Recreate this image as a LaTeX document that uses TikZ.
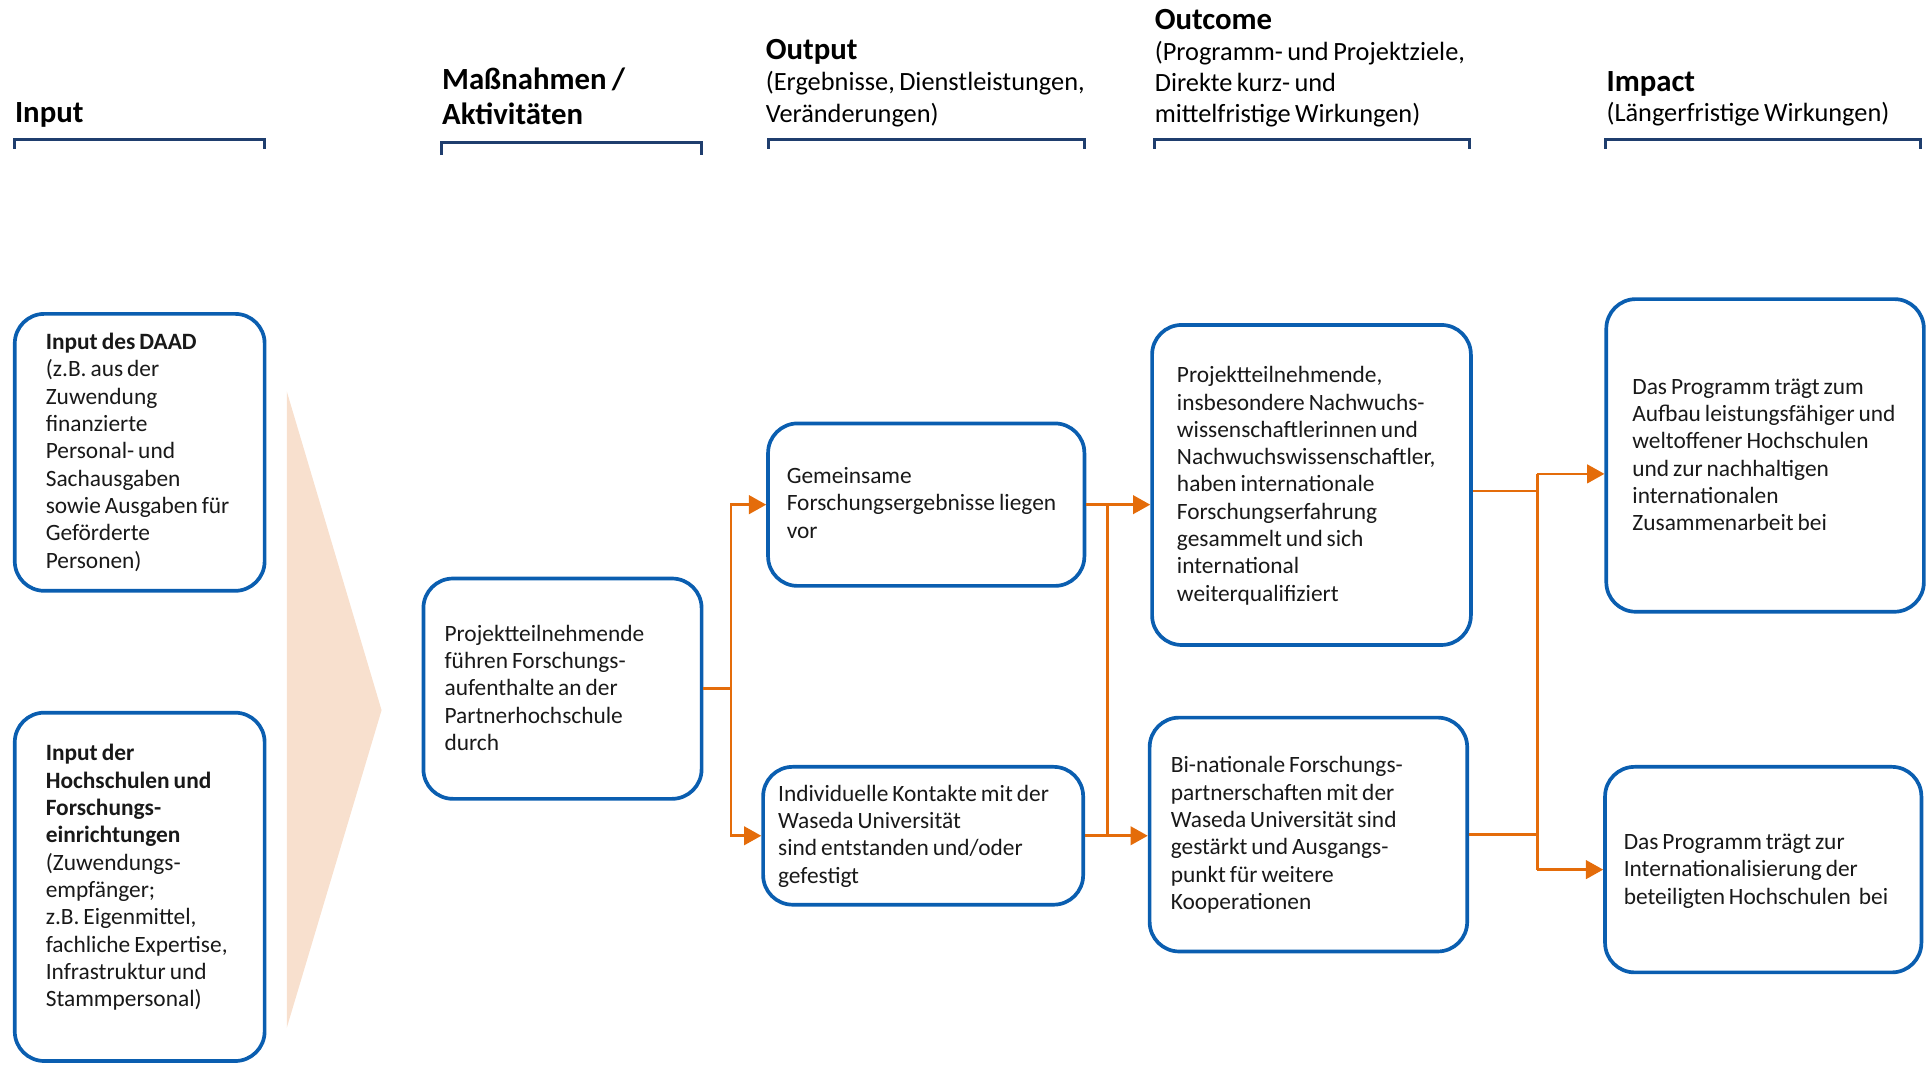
\documentclass[tikz,border=0pt]{standalone}
\usepackage{fontspec}
\setmainfont{Carlito}[WordSpace=0.75]
\usetikzlibrary{arrows.meta}

\definecolor{boxblue}{HTML}{0A5EB0}
\definecolor{linkorange}{HTML}{E46C0A}
\definecolor{headnavy}{HTML}{1F3E6E}
\definecolor{flowpeach}{HTML}{F8E0CE}

\tikzset{
	stage/.style={draw=boxblue,line width=3pt,rounded corners=24pt,fill=white,inner sep=0pt},
	txt/.style={anchor=north west,inner sep=0pt,align=left,text=black!90,font=\fontsize{19}{22.2}\selectfont},
	headb/.style={anchor=north west,inner sep=0pt,align=left,font=\bfseries\fontsize{25}{28}\selectfont},
	heads/.style={anchor=north west,inner sep=0pt,align=left,font=\fontsize{21.4}{25.3}\selectfont},
	bracket/.style={draw=headnavy,line width=2.4pt},
	link/.style={draw=linkorange,line width=2.2pt},
	arr/.style={link,-{Triangle[length=14pt,width=15pt]}},
}

\begin{document}
\begin{tikzpicture}[x=1pt,y=-1pt]
	\useasboundingbox (0,0) rectangle (1568,865);

	\node[headb] (hIn) at (12,83) {Input};
	\node[headb] (hMass) at (359,55) {Maßnahmen /\\Aktivitäten};
	\node[headb] (hOut) at (622,32) {Output};
	\node[heads] (hOutSub) at (622,58) {(Ergebnisse, Dienstleistungen,\\Veränderungen)};
	\node[headb] (hOutc) at (938,7) {Outcome};
	\node[heads] (hOutcSub) at (938,33) {(Programm- und Projektziele,\\Direkte kurz- und\\mittelfristige Wirkungen)};
	\node[headb] (hImp) at (1305,58) {Impact};
	\node[heads] (hImpSub) at (1305,83) {(Längerfristige Wirkungen)};

	\draw[bracket] (12,121) -- (12,113) -- (215,113) -- (215,121);
	\draw[bracket] (359,126) -- (359,116) -- (570,116) -- (570,126);
	\draw[bracket] (624,121) -- (624,113) -- (881,113) -- (881,121);
	\draw[bracket] (938,121) -- (938,113) -- (1194,113) -- (1194,121);
	\draw[bracket] (1304,121) -- (1304,113) -- (1560,113) -- (1560,121);

	\fill[flowpeach] (233,318) -- (310,577) -- (233,835) -- cycle;

	\node[stage,minimum width=203pt,minimum height=225pt] (inDAAD) at (113.5,367.5) {};
	\node[stage,minimum width=203pt,minimum height=283pt] (inHS) at (113.5,720.5) {};
	\node[stage,minimum width=226pt,minimum height=179pt] (mass) at (457,559.5) {};
	\node[stage,minimum width=257pt,minimum height=132pt] (outA) at (752.5,410) {};
	\node[stage,minimum width=260pt,minimum height=112pt] (outB) at (750,679) {};
	\node[stage,minimum width=259pt,minimum height=260pt] (outcA) at (1065.5,394) {};
	\node[stage,minimum width=258pt,minimum height=190pt] (outcB) at (1063,678) {};
	\node[stage,minimum width=258pt,minimum height=254pt] (impA) at (1434,370) {};
	\node[stage,minimum width=257pt,minimum height=167pt] (impB) at (1432.5,706.5) {};

	\node[txt] (tDAAD) at (37,270.5) {\textbf{Input des DAAD}\\(z.B. aus der\\Zuwendung\\finanzierte\\Personal- und\\Sachausgaben\\sowie Ausgaben für\\Geförderte\\Personen)};
	\node[txt] (tHS) at (37,604.5) {\textbf{Input der}\\\textbf{Hochschulen und}\\\textbf{Forschungs-}\\\textbf{einrichtungen}\\(Zuwendungs-\\empfänger;\\z.B. Eigenmittel,\\fachliche Expertise,\\Infrastruktur und\\Stammpersonal)};
	\node[txt] (tMass) at (361,507.5) {Projektteilnehmende\\führen Forschungs-\\aufenthalte an der\\Partnerhochschule\\durch};
	\node[txt] (tOutA) at (639,379.5) {Gemeinsame\\Forschungsergebnisse liegen\\vor};
	\node[txt] (tOutB) at (632,637.5) {Individuelle Kontakte mit der\\Waseda Universität\\sind entstanden und/oder\\gefestigt};
	\node[txt] (tOutcA) at (956,297.5) {Projektteilnehmende,\\insbesondere Nachwuchs-\\wissenschaftlerinnen und\\Nachwuchswissenschaftler,\\haben internationale\\Forschungserfahrung\\gesammelt und sich\\international\\weiterqualifiziert};
	\node[txt] (tOutcB) at (951,614.5) {Bi-nationale Forschungs-\\partnerschaften mit der\\Waseda Universität sind\\gestärkt und Ausgangs-\\punkt für weitere\\Kooperationen};
	\node[txt] (tImpA) at (1326,307.5) {Das Programm trägt zum\\Aufbau leistungsfähiger und\\weltoffener Hochschulen\\und zur nachhaltigen\\internationalen\\Zusammenarbeit bei};
	\node[txt] (tImpB) at (1319,677.5) {Das Programm trägt zur\\Internationalisierung der\\beteiligten Hochschulen \ bei};

	\coordinate (j1) at (594,0);
	\coordinate (j2) at (900,0);
	\coordinate (j3) at (1249,0);
	\coordinate (impAin) at ([yshift=-15pt]impA.west);

	\draw[link] (mass.east) -- (mass.east -| j1);
	\draw[arr] (mass.east -| j1) |- (outA.west);
	\draw[arr] (mass.east -| j1) |- (outB.west);

	\draw[arr] (outA.east) -- (outA.east -| outcA.west);
	\draw[arr] (outB.east) -- (outB.east -| outcB.west);
	\draw[link] (outA.east -| j2) -- (outB.east -| j2);

	\draw[link] ([yshift=-5pt]outcA.east) -- ([yshift=-5pt]outcA.east -| j3);
	\draw[link] (outcB.east) -- (outcB.east -| j3);
	\draw[link] (j3 |- impAin) -- (j3 |- impB.west);
	\draw[arr] (j3 |- impAin) -- (impAin);
	\draw[arr] (j3 |- impB.west) -- (impB.west);
\end{tikzpicture}
\end{document}
